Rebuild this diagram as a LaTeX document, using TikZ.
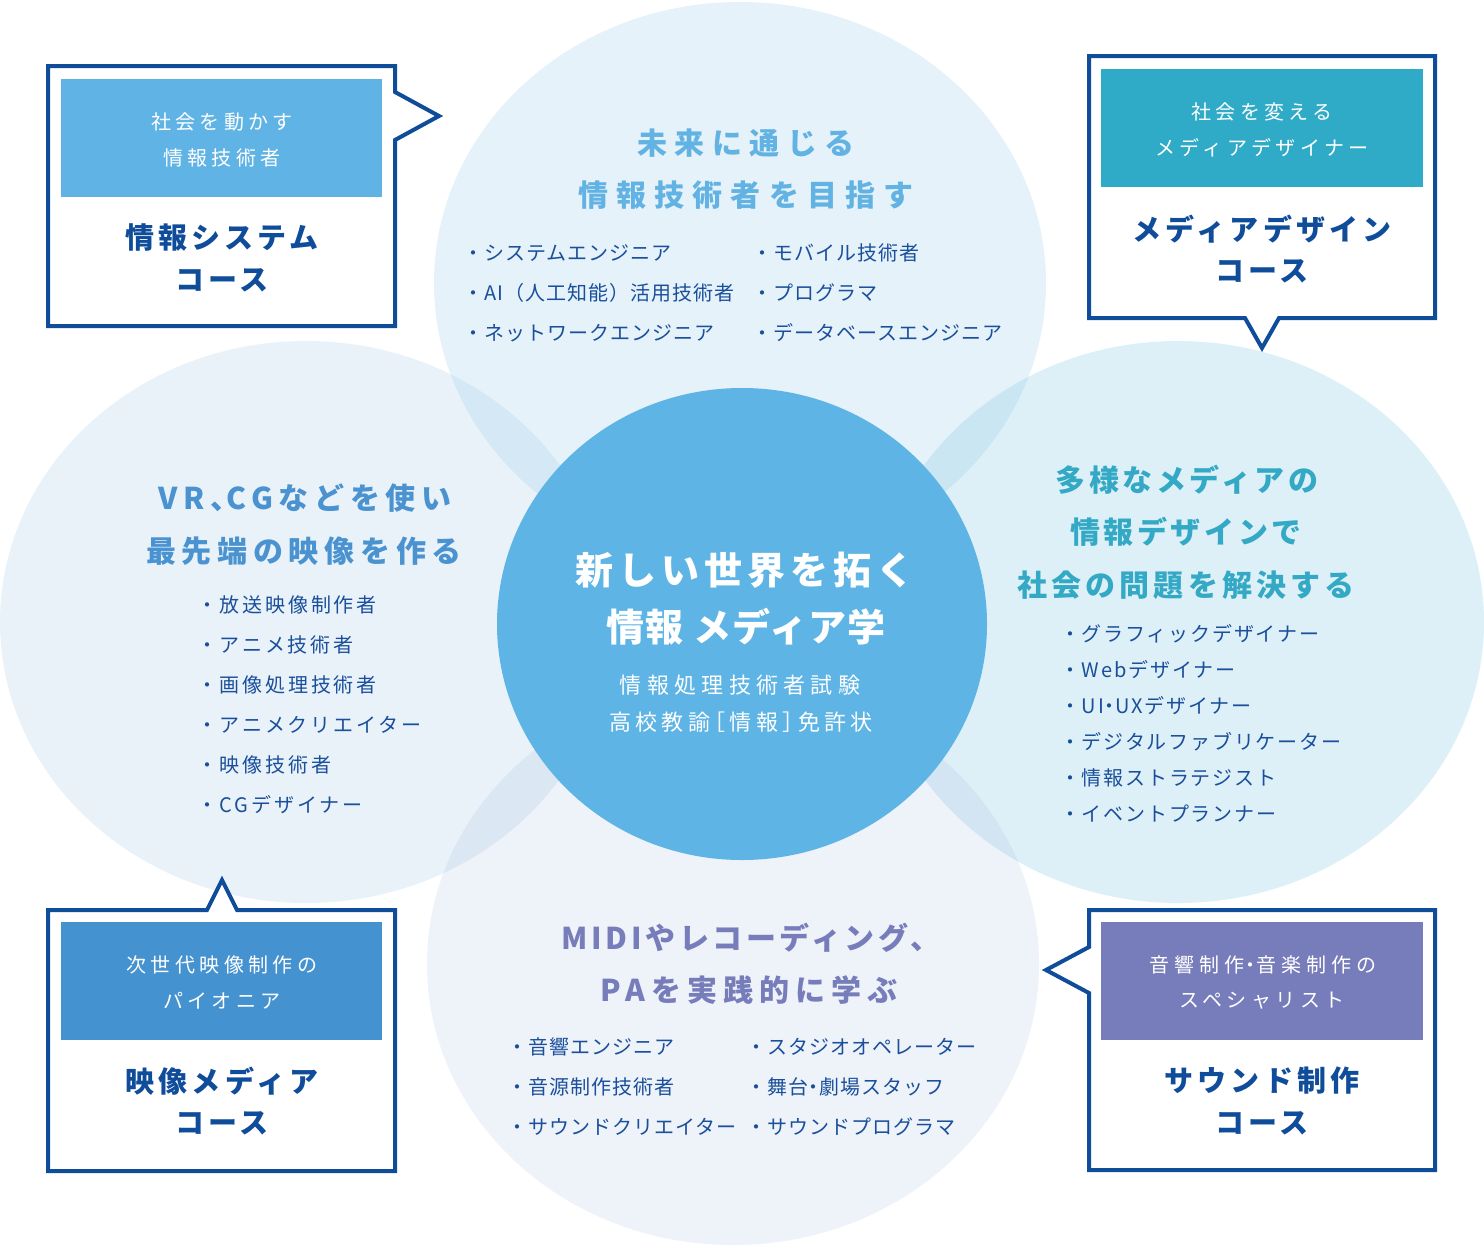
\documentclass[tikz,border=0pt]{standalone}
\usepackage{fontspec}
\setmainfont{Noto Sans CJK JP}
\newcommand\LS[1]{\addfontfeatures{LetterSpace=#1}}
\newcommand\nk{\kern-.22em・\kern-.22em}
\definecolor{dkblue}{HTML}{0F4C9A}
\definecolor{itemblue}{HTML}{1A4F9C}
\definecolor{cfill}{HTML}{5DB4E5}
\definecolor{in1}{HTML}{60B4E5}
\definecolor{in2}{HTML}{30ABC7}
\definecolor{in3}{HTML}{4592D1}
\definecolor{in4}{HTML}{777CBA}
\definecolor{htop}{HTML}{62B3E4}
\definecolor{hleft}{HTML}{4A93D0}
\definecolor{hright}{HTML}{33A9C5}
\definecolor{hbot}{HTML}{777CBA}
\definecolor{ctop}{RGB}{111,183,227}
\definecolor{cleft}{RGB}{138,188,227}
\definecolor{cright}{RGB}{77,177,211}
\definecolor{cbot}{RGB}{166,183,222}
\tikzset{
  bubble/.style={fill opacity=.18},
  hd/.style={inner sep=0pt, font=\fontsize{30}{34}\selectfont\bfseries},
  itm/.style={anchor=west, inner sep=0pt, text=itemblue, font=\fontsize{20}{24}\selectfont\LS{5}},
  litm/.style={itm, font=\fontsize{20}{24}\selectfont\LS{14}},
  ritm/.style={itm, font=\fontsize{20}{24}\selectfont\LS{9}},
  boxsub/.style={inner sep=0pt, text=white, font=\fontsize{20}{24}\selectfont\LS{22}},
  boxtitle/.style={inner sep=0pt, text=dkblue, font=\fontsize{29}{34}\selectfont\bfseries\LS{14}},
  outline/.style={draw=dkblue, line width=4pt, fill=white, line join=miter},
  ctext/.style={inner sep=0pt, text=white},
}
\begin{document}
\begin{tikzpicture}[x=1pt,y=-1pt]
\useasboundingbox (0,0) rectangle (1484,1248);
\fill[white] (0,0) rectangle (1484,1248);
% bubbles
\fill[ctop,bubble] (740,283) ellipse [x radius=306pt, y radius=281pt];
\fill[cleft,bubble] (306,622) ellipse [x radius=306pt, y radius=281pt];
\fill[cright,bubble] (1178,622) ellipse [x radius=306pt, y radius=281pt];
\fill[cbot,bubble] (733,964) ellipse [x radius=306pt, y radius=281pt];
\fill[cfill] (742,624) ellipse [x radius=245pt, y radius=236pt];

% boxes
\draw[outline] (48,66) -- (395,66) -- (395,92) -- (439,116) -- (395,140) -- (395,326) -- (48,326) -- cycle;
\fill[in1] (61,79) rectangle (382,197);
\draw[outline] (1089,56) -- (1435,56) -- (1435,318) -- (1279,318) -- (1262,348) -- (1245,318) -- (1089,318) -- cycle;
\fill[in2] (1101,69) rectangle (1423,187);
\draw[outline] (48,910) -- (207,910) -- (222,880) -- (237,910) -- (395,910) -- (395,1171) -- (48,1171) -- cycle;
\fill[in3] (61,922) rectangle (382,1040);
\draw[outline] (1089,910) -- (1435,910) -- (1435,1170) -- (1089,1170) -- (1089,993) -- (1046,970) -- (1089,947) -- cycle;
\fill[in4] (1101,922) rectangle (1423,1040);

% box texts
\node[boxsub] (b1s1) at (222,122) {社会を動かす};
\node[boxsub] (b1s2) at (222,158) {情報技術者};
\node[boxtitle] (b1t1) at (222,238) {情報システム};
\node[boxtitle] (b1t2) at (222,280) {コース};
\node[boxsub] (b2s1) at (1262,112) {社会を変える};
\node[boxsub] (b2s2) at (1262,148) {メディアデザイナー};
\node[boxtitle] (b2t1) at (1262,229) {メディアデザイン};
\node[boxtitle] (b2t2) at (1262,271) {コース};
\node[boxsub] (b3s1) at (222,965) {次世代映像制作の};
\node[boxsub] (b3s2) at (222,1001) {パイオニア};
\node[boxtitle] (b3t1) at (222,1081) {映像メディア};
\node[boxtitle] (b3t2) at (222,1123) {コース};
\node[boxsub, font=\fontsize{20}{24}\selectfont\LS{26}] (b4s1) at (1263,965) {音響制作\nk 音楽制作の};
\node[boxsub] (b4s2) at (1262,1001) {スペシャリスト};
\node[boxtitle] (b4t1) at (1262,1081) {サウンド制作};
\node[boxtitle] (b4t2) at (1262,1123) {コース};

% center
\node[ctext, font=\fontsize{38}{42}\selectfont\bfseries\LS{13}] (c1) at (745,570) {新しい世界を拓く};
\node[ctext, font=\fontsize{38}{42}\selectfont\bfseries\LS{3}] (c2) at (746,627) {情報 メディア学};
\node[ctext, font=\fontsize{22}{26}\selectfont\LS{24}] (c3) at (740,685) {情報処理技術者試験};
\node[ctext, font=\fontsize{22}{26}\selectfont\LS{20}] (c4) at (741,722) {高校教諭\kern-.3em［情報］\kern-.3em免許状};

% top bubble
\node[hd, text=htop] (th1) at (746,143) {\LS{25}未来に通じる};
\node[hd, text=htop] (th2) at (746,195) {\LS{27}情報技術者を目指す};
\node[itm] (ti1) at (463,253) {・システムエンジニア};
\node[itm] (ti2) at (463,293) {・AI（人工知能）活用技術者};
\node[itm] (ti3) at (463,333) {・ネットワークエンジニア};
\node[itm] (ti4) at (752,253) {・モバイル技術者};
\node[itm] (ti5) at (752,293) {・プログラマ};
\node[itm] (ti6) at (752,333) {・データベースエンジニア};

% left bubble
\node[hd, text=hleft] (lh1) at (305,498) {\LS{19}VR、\kern-.45em CGなどを使い};
\node[hd, text=hleft] (lh2) at (304,551) {\LS{19}最先端の映像を作る};
\node[litm] (li1) at (197,605) {・放送映像制作者};
\node[litm] (li2) at (197,645) {・アニメ技術者};
\node[litm] (li3) at (197,685) {・画像処理技術者};
\node[litm] (li4) at (197,725) {・アニメクリエイター};
\node[litm] (li5) at (197,765) {・映像技術者};
\node[litm] (li6) at (197,805) {・CGデザイナー};

% right bubble
\node[hd, text=hright] (rh1) at (1187,480) {\LS{12}多様なメディアの};
\node[hd, text=hright] (rh2) at (1186,532) {\LS{12}情報デザインで};
\node[hd, text=hright] (rh3) at (1186,585) {\LS{14}社会の問題を解決する};
\node[ritm] (ri1) at (1060,634) {・グラフィックデザイナー};
\node[ritm] (ri2) at (1060,670) {・Webデザイナー};
\node[ritm] (ri3) at (1060,706) {・UI\nk UXデザイナー};
\node[ritm] (ri4) at (1060,742) {・デジタルファブリケーター};
\node[ritm] (ri5) at (1060,778) {・情報ストラテジスト};
\node[ritm] (ri6) at (1060,814) {・イベントプランナー};

% bottom bubble
\node[hd, text=hbot] (bh1) at (751,938) {\LS{12}MIDIやレコーディング、};
\node[hd, text=hbot] (bh2) at (749,990) {\LS{20}PAを実践的に学ぶ};
\node[itm] (bi1) at (507,1047) {・音響エンジニア};
\node[itm] (bi2) at (507,1087) {・音源制作技術者};
\node[itm] (bi3) at (507,1127) {・サウンドクリエイター};
\node[itm] (bi4) at (746,1047) {・スタジオオペレーター};
\node[itm] (bi5) at (746,1087) {・舞台\nk 劇場スタッフ};
\node[itm] (bi6) at (746,1127) {・サウンドプログラマ};
\end{tikzpicture}
\end{document}
